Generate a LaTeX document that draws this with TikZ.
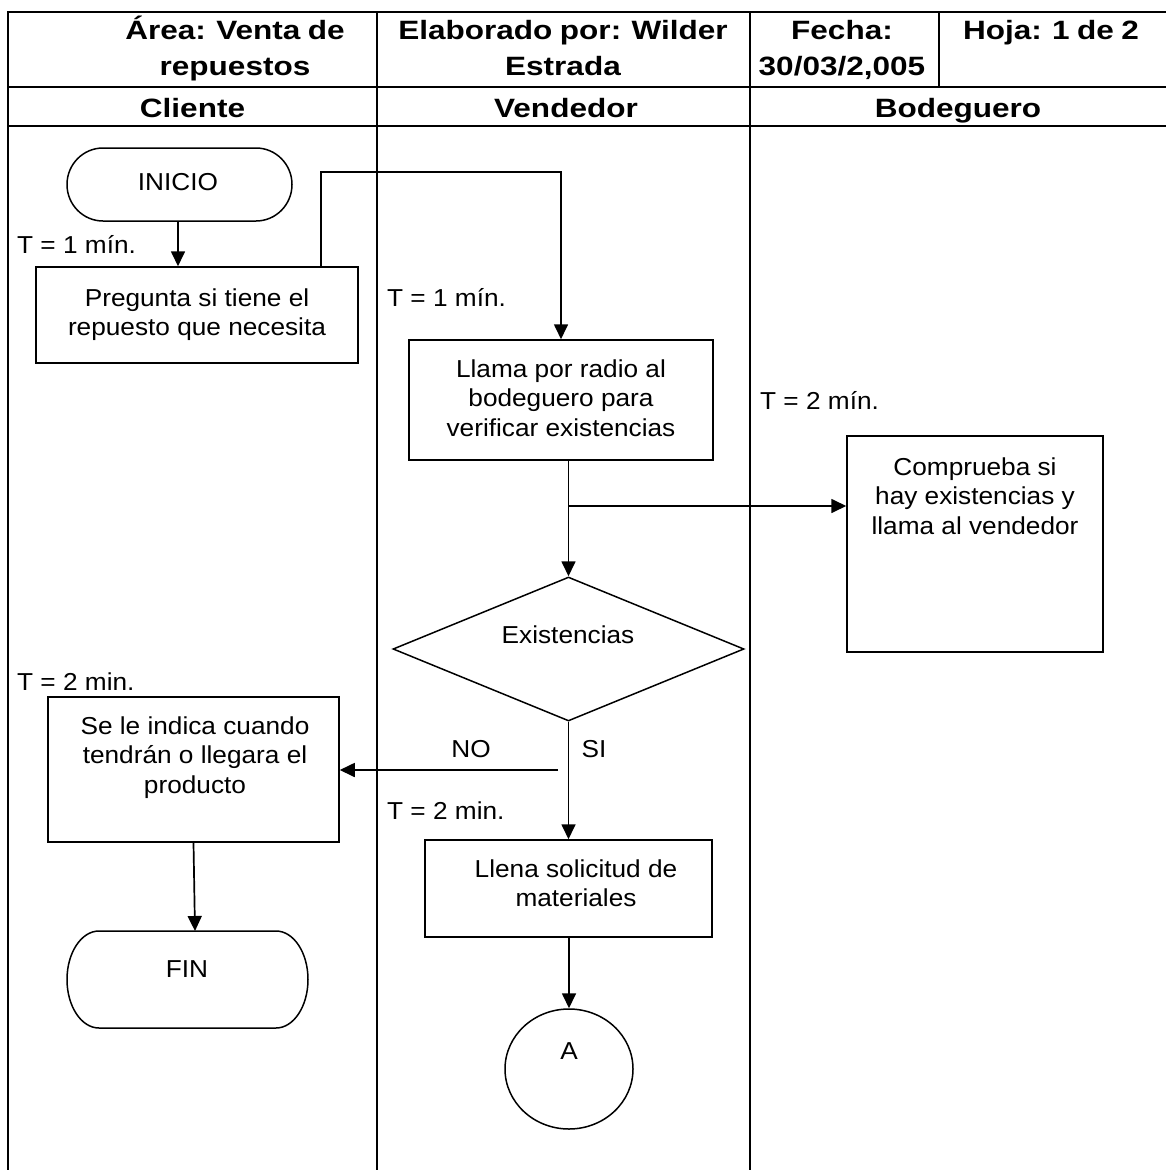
\documentclass[tikz,border=0pt]{standalone}
\usepackage{fontspec}
\setmainfont{Liberation Sans}[FakeStretch=1.07]
\newfontfamily\hdfont{Liberation Sans}[FakeStretch=1.19, WordSpace=0.85]
\usetikzlibrary{arrows.meta,shapes.geometric}

% stacked, centred lines whose baseline is that of the first line
\newcommand\lns[1]{\begin{tabular}[t]{@{}c@{}}#1\end{tabular}}
% terminal outline with elliptical ends around an invisible node
\newcommand\termshape[3]{%
  \draw[shp, line join=round] ([xshift=#2pt]#1.north west) -- ([xshift=-#2pt]#1.north east)
    arc[start angle=90,end angle=-90,x radius=#2pt,y radius=#3pt]
    -- ([xshift=#2pt]#1.south west)
    arc[start angle=270,end angle=90,x radius=#2pt,y radius=#3pt] -- cycle;}

\tikzset{
  grid/.style={line width=1.8pt},
  shp/.style={line width=1.5pt},
  box/.style={draw, shp, rectangle, inner sep=0pt},
  hole/.style={rectangle, inner sep=0pt, outer sep=0pt},
  conn/.style={line width=1.7pt, -{Triangle[length=15pt,width=14pt]}},
  body/.style={font=\fontsize{24.5}{29.5}\selectfont, inner sep=0pt, anchor=base},
  lbl/.style={body, anchor=base west},
  head/.style={font=\hdfont\bfseries\fontsize{26.5}{36}\selectfont, inner sep=0pt, anchor=base},
}

\begin{document}
\begin{tikzpicture}[x=1pt,y=-1pt]
\useasboundingbox (0,0) rectangle (1165,1170);

% table frame, header rows and swim lanes
\draw[grid] (8,1170) -- (8,12) -- (1166,12);
\draw[grid] (8,87) -- (1166,87);
\draw[grid] (8,126) -- (1166,126);
\draw[grid] (377,12) -- (377,1170);
\draw[grid] (750,12) -- (750,1170);
\draw[grid] (939,12) -- (939,87);

% header
\node[head] (hArea) at (235,39) {\lns{Área: Venta de\\repuestos}};
\node[head] (hElab) at (563,39) {\lns{Elaborado por: Wilder\\Estrada}};
\node[head] (hFecha) at (842,39) {\lns{Fecha:\\30/03/2,005}};
\node[head] (hHoja) at (1051,39) {Hoja: 1 de 2};
\node[head] (hCli) at (192.5,117) {Cliente};
\node[head] (hVen) at (566,117) {Vendedor};
\node[head] (hBod) at (958,117) {Bodeguero};

% shapes
\node[hole, minimum width=225pt, minimum height=73pt] (ini) at (179.5,184.5) {};
\termshape{ini}{36}{36.5}
\node[box, minimum width=322pt, minimum height=96pt] (preg) at (197,315) {};
\node[box, minimum width=304pt, minimum height=120pt] (llama) at (561,400) {};
\node[box, minimum width=256pt, minimum height=216pt] (comp) at (975,544) {};
\node[diamond, draw, shp, inner sep=0pt, minimum width=351pt, minimum height=144pt] (dia) at (568.5,649) {};
\node[box, minimum width=291pt, minimum height=145pt] (se) at (193.5,769.5) {};
\node[box, minimum width=287pt, minimum height=97pt] (llena) at (568.5,888.5) {};
\node[hole, minimum width=241pt, minimum height=97pt] (fin) at (187.5,979.5) {};
\termshape{fin}{32}{48.5}
\node[ellipse, draw, shp, inner sep=0pt, minimum width=128pt, minimum height=120pt] (conA) at (569,1069) {};

% texts inside the shapes
\node[body] (tIni) at (178,190) {INICIO};
\node[body] (tPreg) at (197,306) {\lns{Pregunta si tiene el\\repuesto que necesita}};
\node[body] (tLlama) at (561,377) {\lns{Llama por radio al\\bodeguero para\\verificar existencias}};
\node[body] (tComp) at (975,475) {\lns{Comprueba si\\hay existencias y\\llama al vendedor}};
\node[body] (tDia) at (568,643) {Existencias};
\node[body] (tSe) at (195,734) {\lns{Se le indica cuando\\tendrán o llegara el\\producto}};
\node[body] (tLlena) at (576,877) {\lns{Llena solicitud de\\materiales}};
\node[body] (tFin) at (187,977) {FIN};
\node[body] (tA) at (569,1059) {A};

% time labels and branch labels
\node[lbl] (t1) at (17,253) {T = 1 mín.};
\node[lbl] (t2) at (387,306) {T = 1 mín.};
\node[lbl] (t3) at (760,409) {T = 2 mín.};
\node[lbl] (t4) at (17,690) {T = 2 min.};
\node[lbl] (t5) at (387,819) {T = 2 min.};
\node[body] (lNo) at (471,757) {NO};
\node[body] (lSi) at (594,757) {SI};

% connectors
\coordinate (up) at (321,172);
\coordinate (split) at (568,506);
\coordinate (noStart) at (558,770);
\draw[conn] (ini.south -| tIni) -- (preg.north -| tIni);
\draw[conn] (preg.north -| up) -- (up) -| (llama.north);
\draw[conn] (llama.south -| dia.north) -- (dia.north);
\draw[conn] (split) -- (split -| comp.west);
\draw[conn] (dia.south) -- (llena.north -| dia.south);
\draw[conn] (noStart) -- (noStart -| se.east);
\draw[conn] (se.south) -- ([xshift=7.5pt]fin.north);
\draw[conn] (llena.south -| conA.north) -- (conA.north);
\end{tikzpicture}
\end{document}
